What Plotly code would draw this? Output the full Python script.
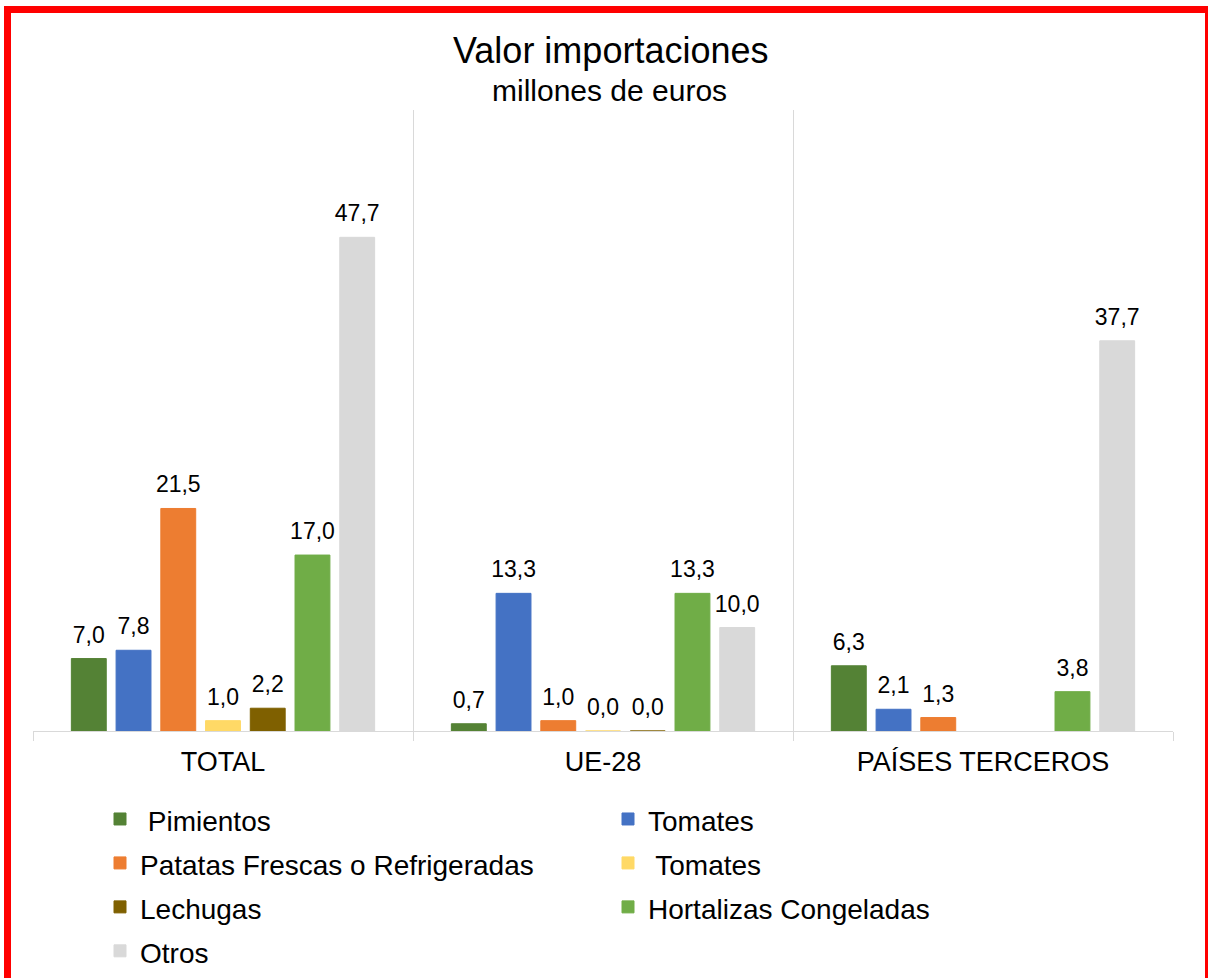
import plotly.graph_objects as go

categories = ["TOTAL", "UE-28", "PAÍSES TERCEROS"]
series_names = [" Pimientos", "Tomates", "Patatas Frescas o Refrigeradas", " Tomates",
                "Lechugas", "Hortalizas Congeladas", "Otros"]
pimientos = [7.0, 0.7, 6.3]
tomates = [7.8, 13.3, 2.1]
patatas = [21.5, 1.0, 1.3]
tomates_2 = [1.0, 0.0, None]
lechugas = [2.2, 0.0, None]
hortalizas = [17.0, 13.3, 3.8]
otros = [47.7, 10.0, 37.7]
series_values = [pimientos, tomates, patatas, tomates_2, lechugas, hortalizas, otros]
colors = ["#548235", "#4472C4", "#ED7D31", "#FFD966", "#7F6000", "#70AD47", "#D9D9D9"]

W, H = 1208, 978
L, R, T, B = 33, 35, 110, 247
PW, PH = W - L - R, H - T - B


def px_x(px):
    return (px - L) / PW


def px_y(py):
    return (H - B - py) / PH


FONT = "Liberation Sans, Arial, sans-serif"
PAD = "<span style='font-size:62px'> </span>"

fig = go.Figure()
for name, vals, col in zip(series_names, series_values, colors):
    fig.add_trace(go.Bar(
        name="<span style='font-size:28px'>" + name + "</span>", x=categories, y=vals,
        marker=dict(color=col, line=dict(color=col, width=1)),
        texttemplate=PAD + "%{y:.1f}" + PAD, textposition="outside", cliponaxis=False,
        constraintext="none",
        textfont=dict(size=23, color="#000000", family=FONT),
    ))

fig.update_layout(
    width=W, height=H,
    margin=dict(l=L, r=R, t=T, b=B, autoexpand=False),
    paper_bgcolor="white", plot_bgcolor="white",
    barmode="group", bargap=0.176, bargroupgap=0.22,
    separators=",.",
    font=dict(family=FONT, color="#000000"),
    showlegend=True,
    legend=dict(
        orientation="h", x=px_x(100), xanchor="left", y=px_y(792), yanchor="top",
        entrywidth=463, entrywidthmode="pixels", traceorder="normal",
        font=dict(size=31.5, family=FONT, color="#000000"),
        bgcolor="rgba(0,0,0,0)",
    ),
    xaxis=dict(
        type="category", tickson="boundaries", showgrid=True, gridcolor="#D9D9D9", gridwidth=1,
        ticks="outside", ticklen=9, tickcolor="#D9D9D9", showline=True, linecolor="#D9D9D9",
        ticklabelstandoff=7,
        tickfont=dict(size=27, family=FONT, color="#000000"),
    ),
    yaxis=dict(range=[0, 60], showticklabels=False, showgrid=False, zeroline=False, showline=False),
    annotations=[
        dict(text="Valor importaciones", xref="paper", yref="paper", x=px_x(610), y=px_y(50),
             xanchor="center", yanchor="middle", showarrow=False,
             font=dict(size=36, family=FONT, color="#000000")),
        dict(text="millones de euros", xref="paper", yref="paper", x=px_x(609), y=px_y(90),
             xanchor="center", yanchor="middle", showarrow=False,
             font=dict(size=30, family=FONT, color="#000000")),
    ],
    shapes=[
        dict(type="rect", xref="paper", yref="paper", x0=px_x(4), x1=px_x(11), y0=px_y(6), y1=px_y(978),
             fillcolor="#FF0000", line=dict(width=0), layer="above"),
        dict(type="rect", xref="paper", yref="paper", x0=px_x(4), x1=px_x(1208), y0=px_y(6), y1=px_y(13),
             fillcolor="#FF0000", line=dict(width=0), layer="above"),
        dict(type="rect", xref="paper", yref="paper", x0=px_x(1205), x1=px_x(1208), y0=px_y(6), y1=px_y(978),
             fillcolor="#FF0000", line=dict(width=0), layer="above"),
    ],
)

fig.write_html("out.html", config={"displayModeBar": False},
               post_script="document.body.style.margin='0';document.body.style.overflow='hidden';")
